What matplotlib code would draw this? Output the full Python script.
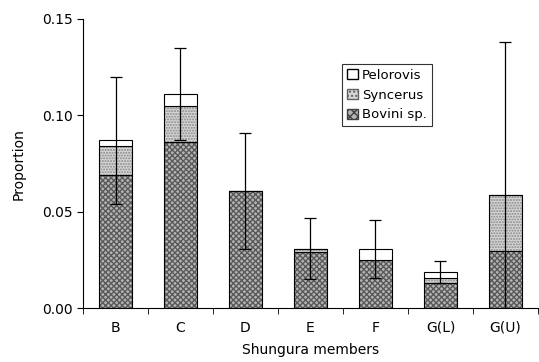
import matplotlib.pyplot as plt
import numpy as np
from matplotlib.patches import Patch

members = ['B', 'C', 'D', 'E', 'F', 'G(L)', 'G(U)']
bovini = [0.069, 0.086, 0.061, 0.029, 0.025, 0.013, 0.030]
syncerus = [0.015, 0.019, 0.000, 0.002, 0.000, 0.003, 0.029]
pelorovis = [0.003, 0.006, 0.000, 0.000, 0.006, 0.003, 0.000]
err = [0.033, 0.024, 0.030, 0.016, 0.015, 0.0057, 0.079]

x = np.arange(len(members))
bovini = np.array(bovini)
syncerus = np.array(syncerus)
pelorovis = np.array(pelorovis)
total = bovini + syncerus + pelorovis

fig = plt.figure(figsize=(5.39, 3.62), dpi=100)
ax = fig.add_axes([0.154, 0.148, 0.844, 0.80])
w = 0.5

bov_fc, bov_hc = '#b4b4b4', '#5a5a5a'
syn_fc, syn_hc = '#d6d6d6', '#888888'

layers = [
    (bovini, np.zeros(len(x)), bov_fc, bov_hc, 'xxxxxx'),
    (syncerus, bovini, syn_fc, syn_hc, '......'),
    (pelorovis, bovini + syncerus, 'white', 'white', None),
]
for vals, base, fc, hc, hatch in layers:
    ax.bar(x, vals, w, bottom=base, color=fc, edgecolor=hc, hatch=hatch, linewidth=0)
    ax.bar(x, vals, w, bottom=base, fill=False, edgecolor='black', linewidth=0.8)

ax.errorbar(x, total, yerr=err, fmt='none', ecolor='black', elinewidth=0.9,
            capsize=4, capthick=0.9)

ax.set_xlim(-0.5, 6.5)
ax.set_ylim(0, 0.15)
ax.set_yticks([0, 0.05, 0.10, 0.15])
ax.set_yticklabels(['0.00', '0.05', '0.10', '0.15'], fontsize=10)
ax.set_xticks(x)
ax.set_xticklabels(members, fontsize=10)
ax.tick_params(axis='x', which='major', length=0, pad=9)
ax.set_xticks(np.arange(-0.5, 7, 1), minor=True)
ax.tick_params(axis='x', which='minor', length=4)
ax.tick_params(axis='y', length=4)
ax.spines['top'].set_visible(False)
ax.spines['right'].set_visible(False)
ax.set_xlabel('Shungura members', fontsize=10, labelpad=6)
ax.set_ylabel('Proportion', fontsize=10, labelpad=12)

leg_handles = [
    Patch(facecolor='white', edgecolor='black', label='Pelorovis'),
    Patch(facecolor=syn_fc, edgecolor='#606060', hatch='....', label='Syncerus'),
    Patch(facecolor=bov_fc, edgecolor='#404040', hatch='xxxx', label='Bovini sp.'),
]
leg = ax.legend(handles=leg_handles, loc='upper left', bbox_to_anchor=(0.569, 0.845),
                fontsize=9.5, frameon=True, fancybox=False, edgecolor='black',
                handlelength=0.8, handleheight=0.8, handletextpad=0.3,
                borderpad=0.4, labelspacing=0.5, borderaxespad=0)
leg.get_frame().set_linewidth(0.8)

plt.savefig('out.png', dpi=100)
